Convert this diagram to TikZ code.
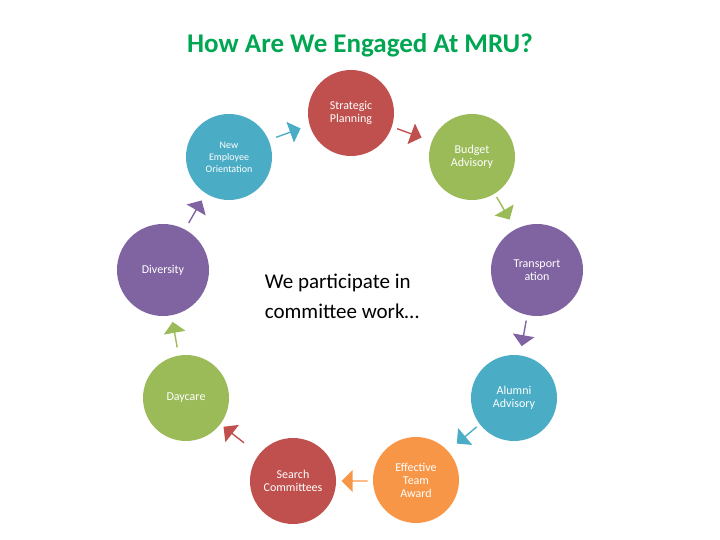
\documentclass[tikz,border=0pt]{standalone}
\usepackage{fontspec}
\setmainfont{Carlito}
\usetikzlibrary{shapes.arrows}
\definecolor{cred}{HTML}{C0504D}
\definecolor{cgreen}{HTML}{9BBB59}
\definecolor{cpurple}{HTML}{8064A2}
\definecolor{cteal}{HTML}{4BACC6}
\definecolor{corange}{HTML}{F79646}
\definecolor{ctitle}{HTML}{00A651}
\tikzset{
 circ/.style={circle,minimum size=86pt,inner sep=1pt,text=white,align=center,font=\fontsize{12}{13}\selectfont},
 arr/.style={single arrow,minimum height=26pt,minimum width=22pt,single arrow head extend=3pt,inner sep=0pt}
}
\begin{document}
\begin{tikzpicture}[x=1pt,y=-1pt]
\useasboundingbox (0,0) rectangle (720,540);
\node[font=\bfseries\fontsize{27}{30}\selectfont,text=ctitle] (title) at (360,45) {How Are We Engaged At MRU?};
\node[circ,fill=cred] (sp) at (351,113) {Strategic\\Planning};
\node[circ,fill=cgreen] (ba) at (472,157) {Budget\\Advisory};
\node[circ,fill=cpurple,minimum size=92pt] (tr) at (537,270) {Transport\\ation};
\node[circ,fill=cteal] (al) at (514,398) {Alumni\\Advisory};
\node[circ,fill=corange] (ef) at (416,480) {Effective\\Team\\Award};
\node[circ,fill=cred] (se) at (293,481) {Search\\Committees};
\node[circ,fill=cgreen] (dc) at (186,398) {Daycare};
\node[circ,fill=cpurple,minimum size=92pt] (dv) at (163,270) {Diversity};
\node[circ,fill=cteal,font=\fontsize{10}{12}\selectfont] (ne) at (229,157) {New\\Employee\\Orientation};
\node[font=\fontsize{21}{30}\selectfont,align=left] (ct) at (342,296) {We participate in\\committee work\dots};
\node[arr,fill=cteal,rotate=20] (a1) at (288,133) {};
\node[arr,fill=cred,rotate=-20] (a2) at (409,133) {};
\node[arr,fill=cgreen,rotate=-60] (a3) at (503,208) {};
\node[arr,fill=cpurple,rotate=-100] (a4) at (524,333) {};
\node[arr,fill=cteal,rotate=-140] (a5) at (467,435) {};
\node[arr,fill=corange,rotate=180] (a6) at (355,481) {};
\node[arr,fill=cred,rotate=142] (a7) at (234,435) {};
\node[arr,fill=cgreen,rotate=100] (a8) at (175,335) {};
\node[arr,fill=cpurple,rotate=60] (a9) at (195,212) {};
\end{tikzpicture}
\end{document}
